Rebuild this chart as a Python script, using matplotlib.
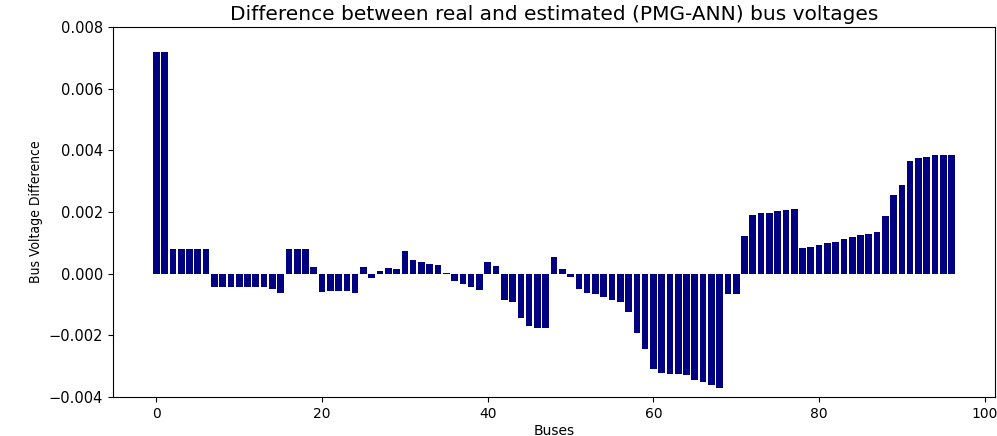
import matplotlib
matplotlib.use("Agg")
import matplotlib.pyplot as plt
import numpy as np

# difference per bus (real - estimated)
buses = list(range(97))
diff = [
    0.0072, 0.0072, 0.00081, 0.00081, 0.00081, 0.00081, 0.00081,
    -0.00042, -0.00042, -0.00042, -0.00042, -0.00042, -0.00042, -0.00042,
    -0.0005, -0.00062,
    0.00081, 0.00081, 0.00081, 0.00021,
    -0.00058, -0.00056, -0.00056, -0.00056, -0.00063,
    0.00021, -0.00015, 0.0001, 0.00017, 0.00014,
    0.00072, 0.00043, 0.00037, 0.00032, 0.00029, 0.00003,
    -0.00023, -0.00034, -0.00044, -0.00052,
    0.00037, 0.00025,
    -0.00085, -0.00092, -0.00145, -0.0017, -0.00177, -0.00177,
    0.00055, 0.00014, -0.00011,
    -0.00051, -0.00063, -0.00067, -0.00074, -0.00085, -0.00092, -0.00125,
    -0.00192, -0.00244, -0.0031, -0.00322, -0.00326, -0.00326, -0.0033,
    -0.00344, -0.00351, -0.00362, -0.0037,
    -0.00066, -0.00066,
    0.00121, 0.00191, 0.00196, 0.00196, 0.00203, 0.00206, 0.00211,
    0.00084, 0.00088, 0.00092, 0.00098, 0.00103, 0.00111, 0.00118,
    0.00125, 0.0013, 0.00136, 0.00188, 0.00254, 0.00288,
    0.00365, 0.00376, 0.00379, 0.00385, 0.00385, 0.00385,
]

fig = plt.figure(figsize=(9.97, 4.36), dpi=100)
ax = fig.add_axes([0.1133, 0.0894, 0.8847, 0.8486])

ax.bar(buses, diff, color='navy', width=0.8)
ax.set_ylim(-0.004, 0.008)
ax.set_yticks(np.arange(-0.004, 0.0081, 0.002))
ax.set_xticks([0, 20, 40, 60, 80, 100])
ax.tick_params(axis='y', labelsize=10.5)

ax.set_title('Difference between real and estimated (PMG-ANN) bus voltages',
             fontsize=14.5, pad=5)
ax.set_xlabel('Buses', fontsize=10, labelpad=2)
ax.set_ylabel('Bus Voltage Difference', fontsize=10, fontstretch='condensed',
              family=['DejaVu Sans'])

fig.savefig('out.png', dpi=100)
